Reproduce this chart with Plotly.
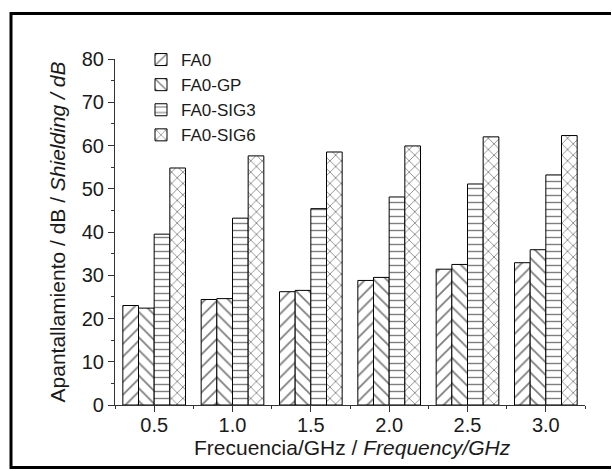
import plotly.graph_objects as go

frequencies = [0.5, 1.0, 1.5, 2.0, 2.5, 3.0]
tick_labels = ["0.5", "1.0", "1.5", "2.0", "2.5", "3.0"]
fa0 = [23.0, 24.4, 26.2, 28.8, 31.4, 32.9]
fa0_gp = [22.4, 24.6, 26.5, 29.5, 32.5, 35.9]
fa0_sig3 = [39.5, 43.2, 45.4, 48.1, 51.1, 53.2]
fa0_sig6 = [54.8, 57.6, 58.5, 59.9, 62.0, 62.3]

series = [
    ("FA0", fa0, "/", 9),
    ("FA0-GP", fa0_gp, "\\", 9),
    ("FA0-SIG3", fa0_sig3, "-", 7),
    ("FA0-SIG6", fa0_sig6, "x", 8),
]

W, H = 612, 471
L, R, T, B = 115, 585, 59, 405  # plot area in px

fig = go.Figure()
for name, vals, shape, size in series:
    fig.add_trace(go.Bar(
        x=frequencies, y=vals, name=name,
        marker=dict(
            color="white",
            line=dict(color="#000", width=1),
            pattern=dict(shape=shape, fgcolor="#000", bgcolor="white",
                         size=size, solidity=0.2),
        ),
    ))

def px_x(p):
    return (p - L) / (R - L)

def px_y(p):
    return (B - p) / (B - T)

font = "Liberation Sans"
fig.update_layout(
    width=W, height=H,
    margin=dict(l=L, r=W - R, t=T, b=H - B),
    paper_bgcolor="white", plot_bgcolor="white",
    barmode="group", bargap=0.2, bargroupgap=0,
    font=dict(family=font, size=20, color="#1a1a1a"),
    showlegend=True,
    legend=dict(x=px_x(141), y=px_y(42), xanchor="left", yanchor="top",
                font=dict(size=17), bgcolor="rgba(0,0,0,0)",
                tracegroupgap=0, itemwidth=30),
    xaxis=dict(
        range=[0.25, 3.25], tickvals=frequencies, ticktext=tick_labels,
        showgrid=False, zeroline=False, showline=True,
        linecolor="#333", linewidth=1.2,
        ticks="outside", ticklen=6, tickwidth=1.2, tickcolor="#333",
        ticklabelstandoff=-4,
        minor=dict(dtick=0.25, tick0=0.25, ticks="outside", ticklen=3,
                   tickcolor="#333", tickwidth=1.2, showgrid=False),
    ),
    yaxis=dict(
        range=[0, 80], tickvals=[0, 10, 20, 30, 40, 50, 60, 70, 80],
        showgrid=False, zeroline=False, showline=True,
        linecolor="#333", linewidth=1.2,
        ticks="outside", ticklen=6, tickwidth=1.2, tickcolor="#333",
        minor=dict(dtick=5, ticks="outside", ticklen=3,
                   tickcolor="#333", tickwidth=1.2, showgrid=False),
        title=dict(text="Apantallamiento / dB / <i>Shielding / dB</i>", standoff=10,
                   font=dict(size=21)),
    ),
    annotations=[dict(
        text="Frecuencia/GHz / <i>Frequency/GHz</i>", xref="paper", yref="paper",
        x=px_x(352), y=px_y(447), xanchor="center", yanchor="middle",
        showarrow=False, font=dict(size=21),
    )],
)

# outer frame
fig.add_shape(type="line", xref="paper", yref="paper",
              x0=px_x(11), x1=px_x(11), y0=px_y(12), y1=px_y(469),
              line=dict(color="black", width=3))
fig.add_shape(type="line", xref="paper", yref="paper",
              x0=px_x(10), x1=px_x(611), y0=px_y(13.5), y1=px_y(13.5),
              line=dict(color="black", width=3))
fig.add_shape(type="line", xref="paper", yref="paper",
              x0=px_x(10), x1=px_x(611), y0=px_y(467.5), y1=px_y(467.5),
              line=dict(color="black", width=3))

fig.write_html("out.html", config={"displayModeBar": False},
               post_script="document.body.style.margin='0';document.body.style.overflow='hidden';")
